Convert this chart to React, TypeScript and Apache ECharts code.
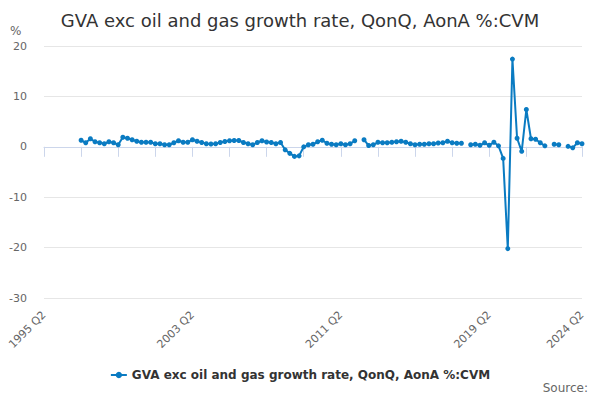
import React, { useEffect, useRef } from "react";
import * as echarts from "echarts";

const titleText = "GVA exc oil and gas growth rate, QonQ, AonA %:CVM";
const seriesName = "GVA exc oil and gas growth rate, QonQ, AonA %:CVM";

const startYear = 1995;
const startQuarter = 2;
const quarterCount = 117;
const categories: string[] = Array.from({ length: quarterCount }, (_, i) => {
  const q = startQuarter - 1 + i;
  return `${startYear + Math.floor(q / 4)} Q${(q % 4) + 1}`;
});

// 1995 Q2 - 1997 Q1 (no data)
const growth1995to1997: (number | null)[] = [null, null, null, null, null, null, null, null];
// 1997 Q2 - 2003 Q1
const growth1997to2003: (number | null)[] = [
  1.3, 0.8, 1.6, 1.0, 0.8, 0.6, 1.0, 0.8, 0.4, 1.9, 1.7, 1.4, 1.1, 0.9, 0.9, 0.9,
  0.6, 0.6, 0.4, 0.4, 0.8, 1.2, 0.9, 0.9,
];
// 2003 Q2 - 2011 Q1
const growth2003to2011: (number | null)[] = [
  1.4, 1.1, 0.85, 0.6, 0.55, 0.6, 0.85, 1.05, 1.2, 1.25, 1.25, 0.85, 0.6, 0.4, 0.85, 1.2,
  0.95, 0.85, 0.6, 0.85, -0.6, -1.3, -1.9, -1.8, 0.0, 0.4, 0.5, 1.0, 1.3, 0.7, 0.5, 0.4,
];
// 2011 Q2 - 2019 Q1
const growth2011to2019: (number | null)[] = [
  0.6, 0.4, 0.6, 1.2, null, 1.4, 0.25, 0.4, 0.9, 0.8, 0.8, 0.9, 1.0, 1.1, 0.9, 0.6,
  0.4, 0.5, 0.5, 0.6, 0.6, 0.75, 0.8, 1.1, 0.8, 0.7, 0.7, null, 0.4, 0.5, 0.3, 0.8,
];
// 2019 Q2 - 2024 Q2
const growth2019to2024: (number | null)[] = [
  0.3, 0.9, 0.2, -2.3, -20.2, 17.4, 1.7, -0.9, 7.4, 1.6, 1.5, 0.8, 0.2, null, 0.5, 0.4,
  null, 0.1, -0.2, 0.8, 0.6,
];

const growth = [
  ...growth1995to1997,
  ...growth1997to2003,
  ...growth2003to2011,
  ...growth2011to2019,
  ...growth2019to2024,
];

const yMin = -30;
const yMax = 20;
const yStep = 10;

const FONT = "DejaVu Sans";
const LINE_COLOR = "#0a7bc2";

export default function App() {
  const ref = useRef<HTMLDivElement>(null);
  useEffect(() => {
    document.body.style.margin = "0";
    if (!ref.current) return;
    const chart = echarts.init(ref.current, undefined, { renderer: "svg" });
    const last = categories.length - 1;
    chart.setOption({
      animation: false,
      backgroundColor: "#ffffff",
      title: {
        text: titleText,
        left: "center",
        top: 6,
        textStyle: { fontFamily: FONT, fontSize: 18, fontWeight: "normal", color: "#333333" },
      },
      grid: { left: 44, right: 18, top: 46, bottom: 102, containLabel: false },
      xAxis: {
        type: "category",
        data: categories,
        boundaryGap: false,
        axisLine: { show: true, lineStyle: { color: "#ccd6eb", width: 1 } },
        axisTick: {
          show: true,
          length: 10,
          interval: (i: number) => (i % 8 === 0 && i <= 104) || i === last,
          lineStyle: { color: "#ccd6eb" },
        },
        axisLabel: {
          interval: (i: number) => i % 32 === 0 || i === last,
          rotate: 45,
          margin: 15,
          color: "#666666",
          fontSize: 11,
          fontFamily: FONT,
        },
        splitLine: { show: false },
      },
      yAxis: {
        type: "value",
        min: yMin,
        max: yMax,
        interval: yStep,
        axisLine: { show: false },
        axisTick: { show: false },
        axisLabel: { color: "#666666", fontSize: 11, fontFamily: FONT, margin: 17 },
        splitLine: { lineStyle: { color: "#e6e6e6", width: 1 } },
      },
      legend: {
        top: 364,
        left: "center",
        itemWidth: 16,
        itemHeight: 8,
        itemGap: 10,
        textStyle: { fontFamily: FONT, fontSize: 12, fontWeight: "bold", color: "#333333" },
      },
      graphic: [
        {
          type: "text",
          left: 10,
          top: 25,
          style: { text: "%", fontFamily: FONT, fontSize: 12, fill: "#666666" },
        },
        {
          type: "text",
          right: 12,
          top: 382,
          style: { text: "Source:", fontFamily: FONT, fontSize: 12, fill: "#666666" },
        },
      ],
      series: [
        {
          name: seriesName,
          type: "line",
          data: growth,
          connectNulls: false,
          symbol: "circle",
          symbolSize: 5,
          showSymbol: true,
          showAllSymbol: true,
          color: LINE_COLOR,
          lineStyle: { width: 2, color: LINE_COLOR },
          itemStyle: { color: LINE_COLOR },
        },
      ],
    });
    return () => chart.dispose();
  }, []);
  return <div ref={ref} style={{ width: 600, height: 400 }} />;
}
